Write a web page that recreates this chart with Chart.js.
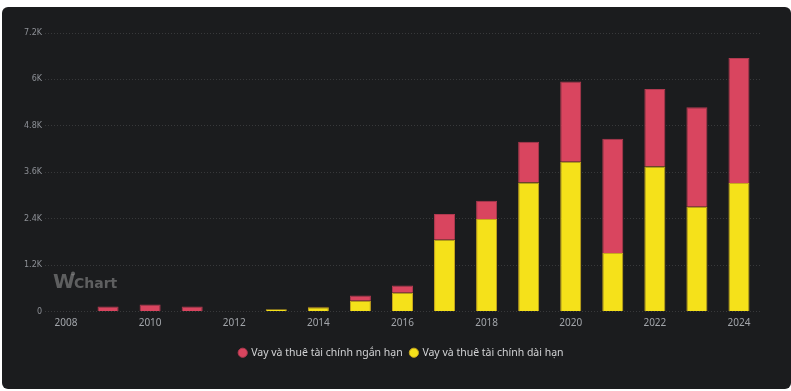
<!DOCTYPE html>
<html>
<head>
<meta charset="utf-8">
<script src="https://cdn.jsdelivr.net/npm/chart.js@4"></script>
<style>
  html, body { margin: 0; padding: 0; background: #ffffff; }
  #card {
    position: absolute; left: 2px; top: 7px; width: 789px; height: 382px;
    background: #1b1c1e; border-radius: 6px; overflow: hidden;
  }
  #chartCanvas { display: block; }
</style>
</head>
<body>
<div id="card"><canvas id="chartCanvas" width="789" height="382"></canvas></div>
<script>
const years = ['2008', '2009', '2010', '2011', '2012', '2013', '2014', '2015', '2016',
  '2017', '2018', '2019', '2020', '2021', '2022', '2023', '2024'];
// short-term borrowings (top of stack)
const shortTermValues = [0, 130, 180, 130, 0, 0, 10, 137, 188, 663, 473, 1050, 2072, 2951, 2005, 2572, 3234];
// long-term borrowings (bottom of stack)
const longTermValues = [0, 0, 0, 0, 0, 60, 110, 276, 483, 1858, 2392, 3337, 3871, 1514, 3750, 2710, 3321];
const yTicks = [0, 1200, 2400, 3600, 4800, 6000, 7200];
const seriesNames = ['Vay và thuê tài chính ngắn hạn', 'Vay và thuê tài chính dài hạn'];

function formatK(v) {
  if (v === 0) return '0';
  return (v / 1000).toString() + 'K';
}

const watermark = {
  id: 'watermark',
  beforeDatasetsDraw(chart) {
    const ctx = chart.ctx;
    const x = chart.chartArea.left + 8;
    const y = chart.chartArea.bottom - 24;
    ctx.save();
    ctx.fillStyle = 'rgba(140,140,140,0.6)';
    ctx.textBaseline = 'alphabetic';
    ctx.font = 'bold 20px "DejaVu Sans"';
    ctx.fillText('W', x, y);
    const w = ctx.measureText('W').width;
    ctx.beginPath();
    ctx.arc(x + w - 2, y - 14, 2, 0, Math.PI * 2);
    ctx.fill();
    ctx.font = 'bold 14px "DejaVu Sans"';
    ctx.fillText('Chart', x + w - 1, y);
    ctx.restore();
  }
};

// legend in the reference sits a bit right of the canvas centre
const legendShift = {
  id: 'legendShift',
  afterLayout(chart) {
    chart.legend.left += 11;
    chart.legend.right += 11;
  }
};

const ctx = document.getElementById('chartCanvas').getContext('2d');
new Chart(ctx, {
  type: 'bar',
  data: {
    labels: years,
    datasets: [
      {
        label: seriesNames[1],
        data: longTermValues,
        backgroundColor: '#f5e11a',
        borderColor: '#c9a81e',
        borderWidth: 1,
        barPercentage: 0.5,
        categoryPercentage: 1
      },
      {
        label: seriesNames[0],
        data: shortTermValues,
        backgroundColor: '#d9455f',
        borderColor: '#b03a50',
        borderWidth: 1,
        barPercentage: 0.5,
        categoryPercentage: 1
      }
    ]
  },
  options: {
    responsive: false,
    animation: false,
    layout: { padding: { left: 19, right: 31, top: 26, bottom: 21 } },
    plugins: {
      legend: {
        position: 'bottom',
        labels: {
          usePointStyle: true,
          pointStyle: 'circle',
          boxWidth: 6.5,
          boxHeight: 6.5,
          padding: 8,
          color: '#d2d3d5',
          font: { family: '"Noto Sans"', size: 10.5 },
          sort: (a, b) => b.datasetIndex - a.datasetIndex
        }
      },
      tooltip: { enabled: false }
    },
    scales: {
      x: {
        stacked: true,
        grid: { display: false },
        border: { display: false },
        afterFit(axis) {
          axis.height += 12;
        },
        ticks: {
          autoSkip: false,
          maxRotation: 0,
          color: '#a2a5aa',
          font: { family: '"Noto Sans"', size: 10 },
          padding: -2,
          callback(value, index) {
            return index % 2 === 0 ? years[index] : '';
          }
        }
      },
      y: {
        stacked: true,
        min: 0,
        max: 7200,
        afterBuildTicks(axis) {
          axis.ticks = yTicks.map((v) => ({ value: v }));
        },
        grid: {
          color: 'rgba(255,255,255,0.13)',
          lineWidth: 1,
          drawTicks: false
        },
        border: { display: false, dash: [1, 2] },
        ticks: {
          color: '#8d9096',
          font: { family: '"DejaVu Sans"', size: 8 },
          padding: 3,
          callback(value) {
            return formatK(value);
          }
        }
      }
    }
  },
  plugins: [watermark, legendShift]
});
</script>
</body>
</html>
